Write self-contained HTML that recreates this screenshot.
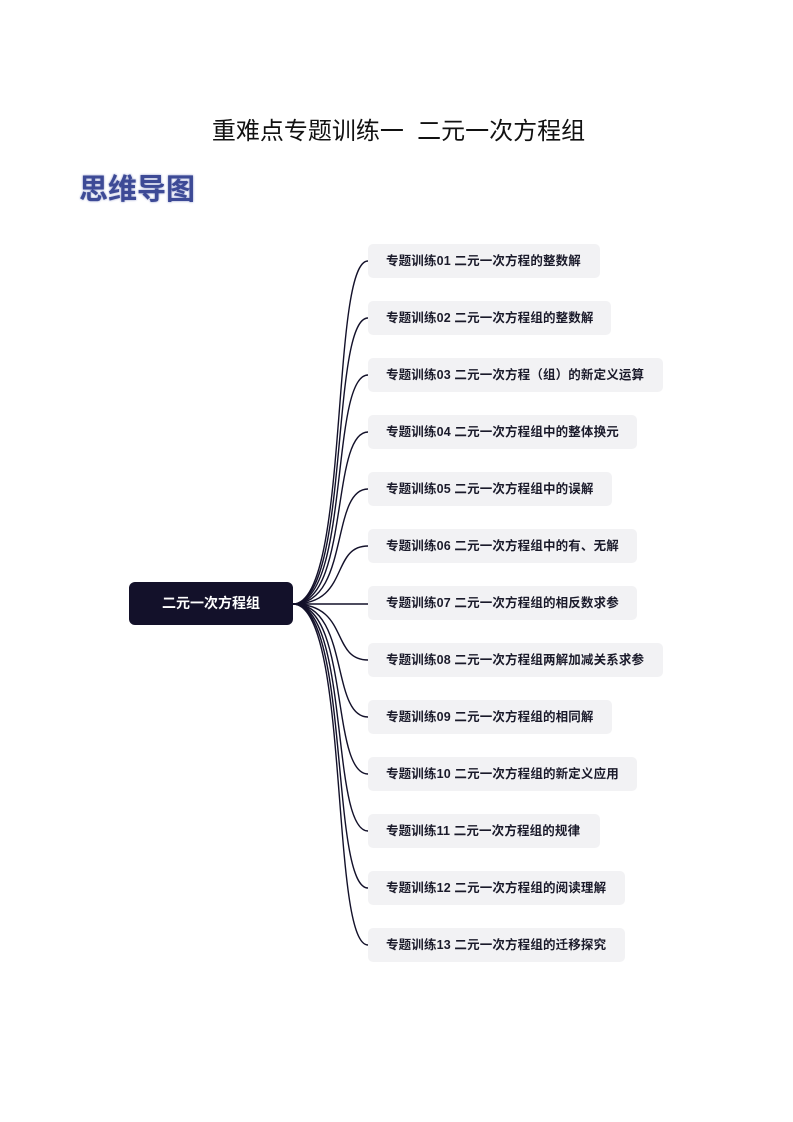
<!DOCTYPE html>
<html><head><meta charset="utf-8"><style>
body{margin:0;background:#fff;width:793px;height:1122px;position:relative;overflow:hidden;font-family:"Liberation Sans","Noto Sans CJK SC",sans-serif}
.t{position:absolute;top:111px;left:0;width:793px;text-align:center;font-size:24px;color:#111;padding-left:2px}
.h{position:absolute;left:79px;top:166px;font-size:29px;font-weight:bold;color:#3d4a96;text-shadow:0 0 2px #8892c8;letter-spacing:0px}
.root{position:absolute;left:129px;top:582px;width:164px;height:43px;background:#13112a;border-radius:6px;color:#fff;font-weight:bold;font-size:14px;line-height:43px;text-align:center}
.b{position:absolute;left:368px;height:34px;background:#f2f2f4;border-radius:5px;font-size:12.5px;font-weight:bold;color:#1a1a2a;line-height:35px;padding-left:18px;box-sizing:border-box;white-space:nowrap;letter-spacing:0.15px}
svg{position:absolute;left:0;top:0}
</style></head><body>
<div class="t">重难点专题训练一&nbsp; 二元一次方程组</div>
<div class="h">思维导图</div>
<svg width="793" height="1122"><g fill="none" stroke="#13112a" stroke-width="1.4">
<path d="M293 604 C350 604 330 261 368 261"/>
<path d="M293 604 C350 604 330 318 368 318"/>
<path d="M293 604 C350 604 330 375 368 375"/>
<path d="M293 604 C350 604 330 432 368 432"/>
<path d="M293 604 C350 604 330 489 368 489"/>
<path d="M293 604 C350 604 330 546 368 546"/>
<path d="M293 604 L368 604"/>
<path d="M293 604 C350 604 330 660 368 660"/>
<path d="M293 604 C350 604 330 717 368 717"/>
<path d="M293 604 C350 604 330 774 368 774"/>
<path d="M293 604 C350 604 330 831 368 831"/>
<path d="M293 604 C350 604 330 888 368 888"/>
<path d="M293 604 C350 604 330 945 368 945"/>
</g></svg>
<div class="root">二元一次方程组</div>
<div class="b" style="top:244px;width:232px">专题训练01 二元一次方程的整数解</div>
<div class="b" style="top:301px;width:243px">专题训练02 二元一次方程组的整数解</div>
<div class="b" style="top:358px;width:295px">专题训练03 二元一次方程（组）的新定义运算</div>
<div class="b" style="top:415px;width:269px">专题训练04 二元一次方程组中的整体换元</div>
<div class="b" style="top:472px;width:244px">专题训练05 二元一次方程组中的误解</div>
<div class="b" style="top:529px;width:269px">专题训练06 二元一次方程组中的有、无解</div>
<div class="b" style="top:586px;width:269px">专题训练07 二元一次方程组的相反数求参</div>
<div class="b" style="top:643px;width:295px">专题训练08 二元一次方程组两解加减关系求参</div>
<div class="b" style="top:700px;width:244px">专题训练09 二元一次方程组的相同解</div>
<div class="b" style="top:757px;width:269px">专题训练10 二元一次方程组的新定义应用</div>
<div class="b" style="top:814px;width:232px">专题训练11 二元一次方程组的规律</div>
<div class="b" style="top:871px;width:257px">专题训练12 二元一次方程组的阅读理解</div>
<div class="b" style="top:928px;width:257px">专题训练13 二元一次方程组的迁移探究</div>
</body></html>
